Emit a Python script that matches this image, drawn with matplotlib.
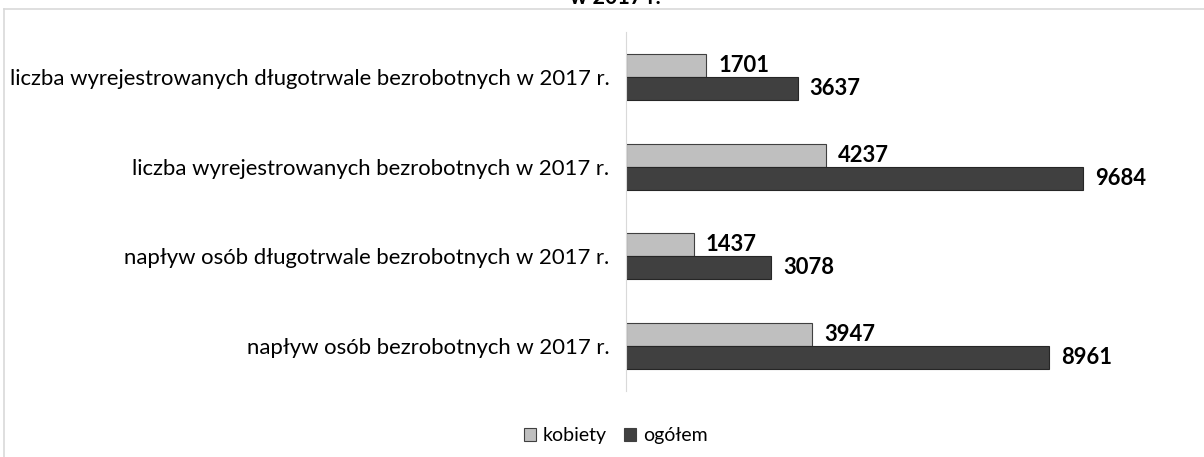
import matplotlib
matplotlib.use("Agg")
import matplotlib.pyplot as plt
from matplotlib.lines import Line2D
from matplotlib.patches import Patch

plt.rcParams["font.family"] = ["Lato", "DejaVu Sans"]

# Data
categories = [
    "liczba wyrejestrowanych długotrwale bezrobotnych w 2017 r.",
    "liczba wyrejestrowanych bezrobotnych w 2017 r.",
    "napływ osób długotrwale bezrobotnych w 2017 r.",
    "napływ osób bezrobotnych w 2017 r.",
]
kobiety = [1701, 4237, 1437, 3947]
ogolem = [3637, 9684, 3078, 8961]
series_names = ["kobiety", "ogółem"]
colors = ["#BFBFBF", "#404040"]

W, H = 1204, 457
fig = plt.figure(figsize=(W / 100, H / 100), dpi=100)

# axes placed in pixel coordinates of the reference
x0, x1 = 626, 1098
y_top, y_bot = 32, 391
ax = fig.add_axes([x0 / W, 1 - y_bot / H, (x1 - x0) / W, (y_bot - y_top) / H])

pos = range(len(categories))
h = 0.255
for i, (k, o) in enumerate(zip(kobiety, ogolem)):
    ax.barh(i - h / 2, k, height=h, color=colors[0], edgecolor="#404040", linewidth=0.8)
    ax.barh(i + h / 2, o, height=h, color=colors[1], edgecolor="#262626", linewidth=0.8)
    ax.annotate(str(k), (k, i - h / 2), xytext=(12, 0), textcoords="offset pixels",
                va="center", ha="left", fontsize=15.8, fontweight="bold")
    ax.annotate(str(o), (o, i + h / 2), xytext=(12, 0), textcoords="offset pixels",
                va="center", ha="left", fontsize=15.8, fontweight="bold")

ax.set_xlim(0, 10000)
ax.set_ylim(3.5, -0.5)
ax.set_yticks(list(pos))
ax.set_yticklabels(categories, fontsize=15.9)
ax.tick_params(axis="y", length=0, pad=12)
ax.set_xticks([])
for s in ["top", "right", "bottom"]:
    ax.spines[s].set_visible(False)
ax.spines["left"].set_color("#D9D9D9")

# legend
handles = [Patch(facecolor=c, edgecolor="#404040", linewidth=0.8) for c in colors]
fig.legend(handles, series_names, loc="center", bbox_to_anchor=(616 / W, 1 - 436 / H),
           ncol=2, frameon=False, fontsize=14, handlelength=0.6, handleheight=0.6,
           handletextpad=0.35, columnspacing=0.9)

# partially visible title at the top edge (cut off as in the reference)
fig.text(615 / W, 1 - 4 / H, "w 2017 r.", ha="center", va="baseline",
         fontsize=15.5, fontweight="bold")

# chart frame (light gray)
fig.add_artist(Line2D([4 / W, 1], [1 - 9 / H, 1 - 9 / H], color="#D9D9D9", linewidth=1.2))
fig.add_artist(Line2D([4 / W, 4 / W], [1 - 9 / H, 0], color="#D9D9D9", linewidth=1.2))

fig.savefig("out.png", dpi=100)
